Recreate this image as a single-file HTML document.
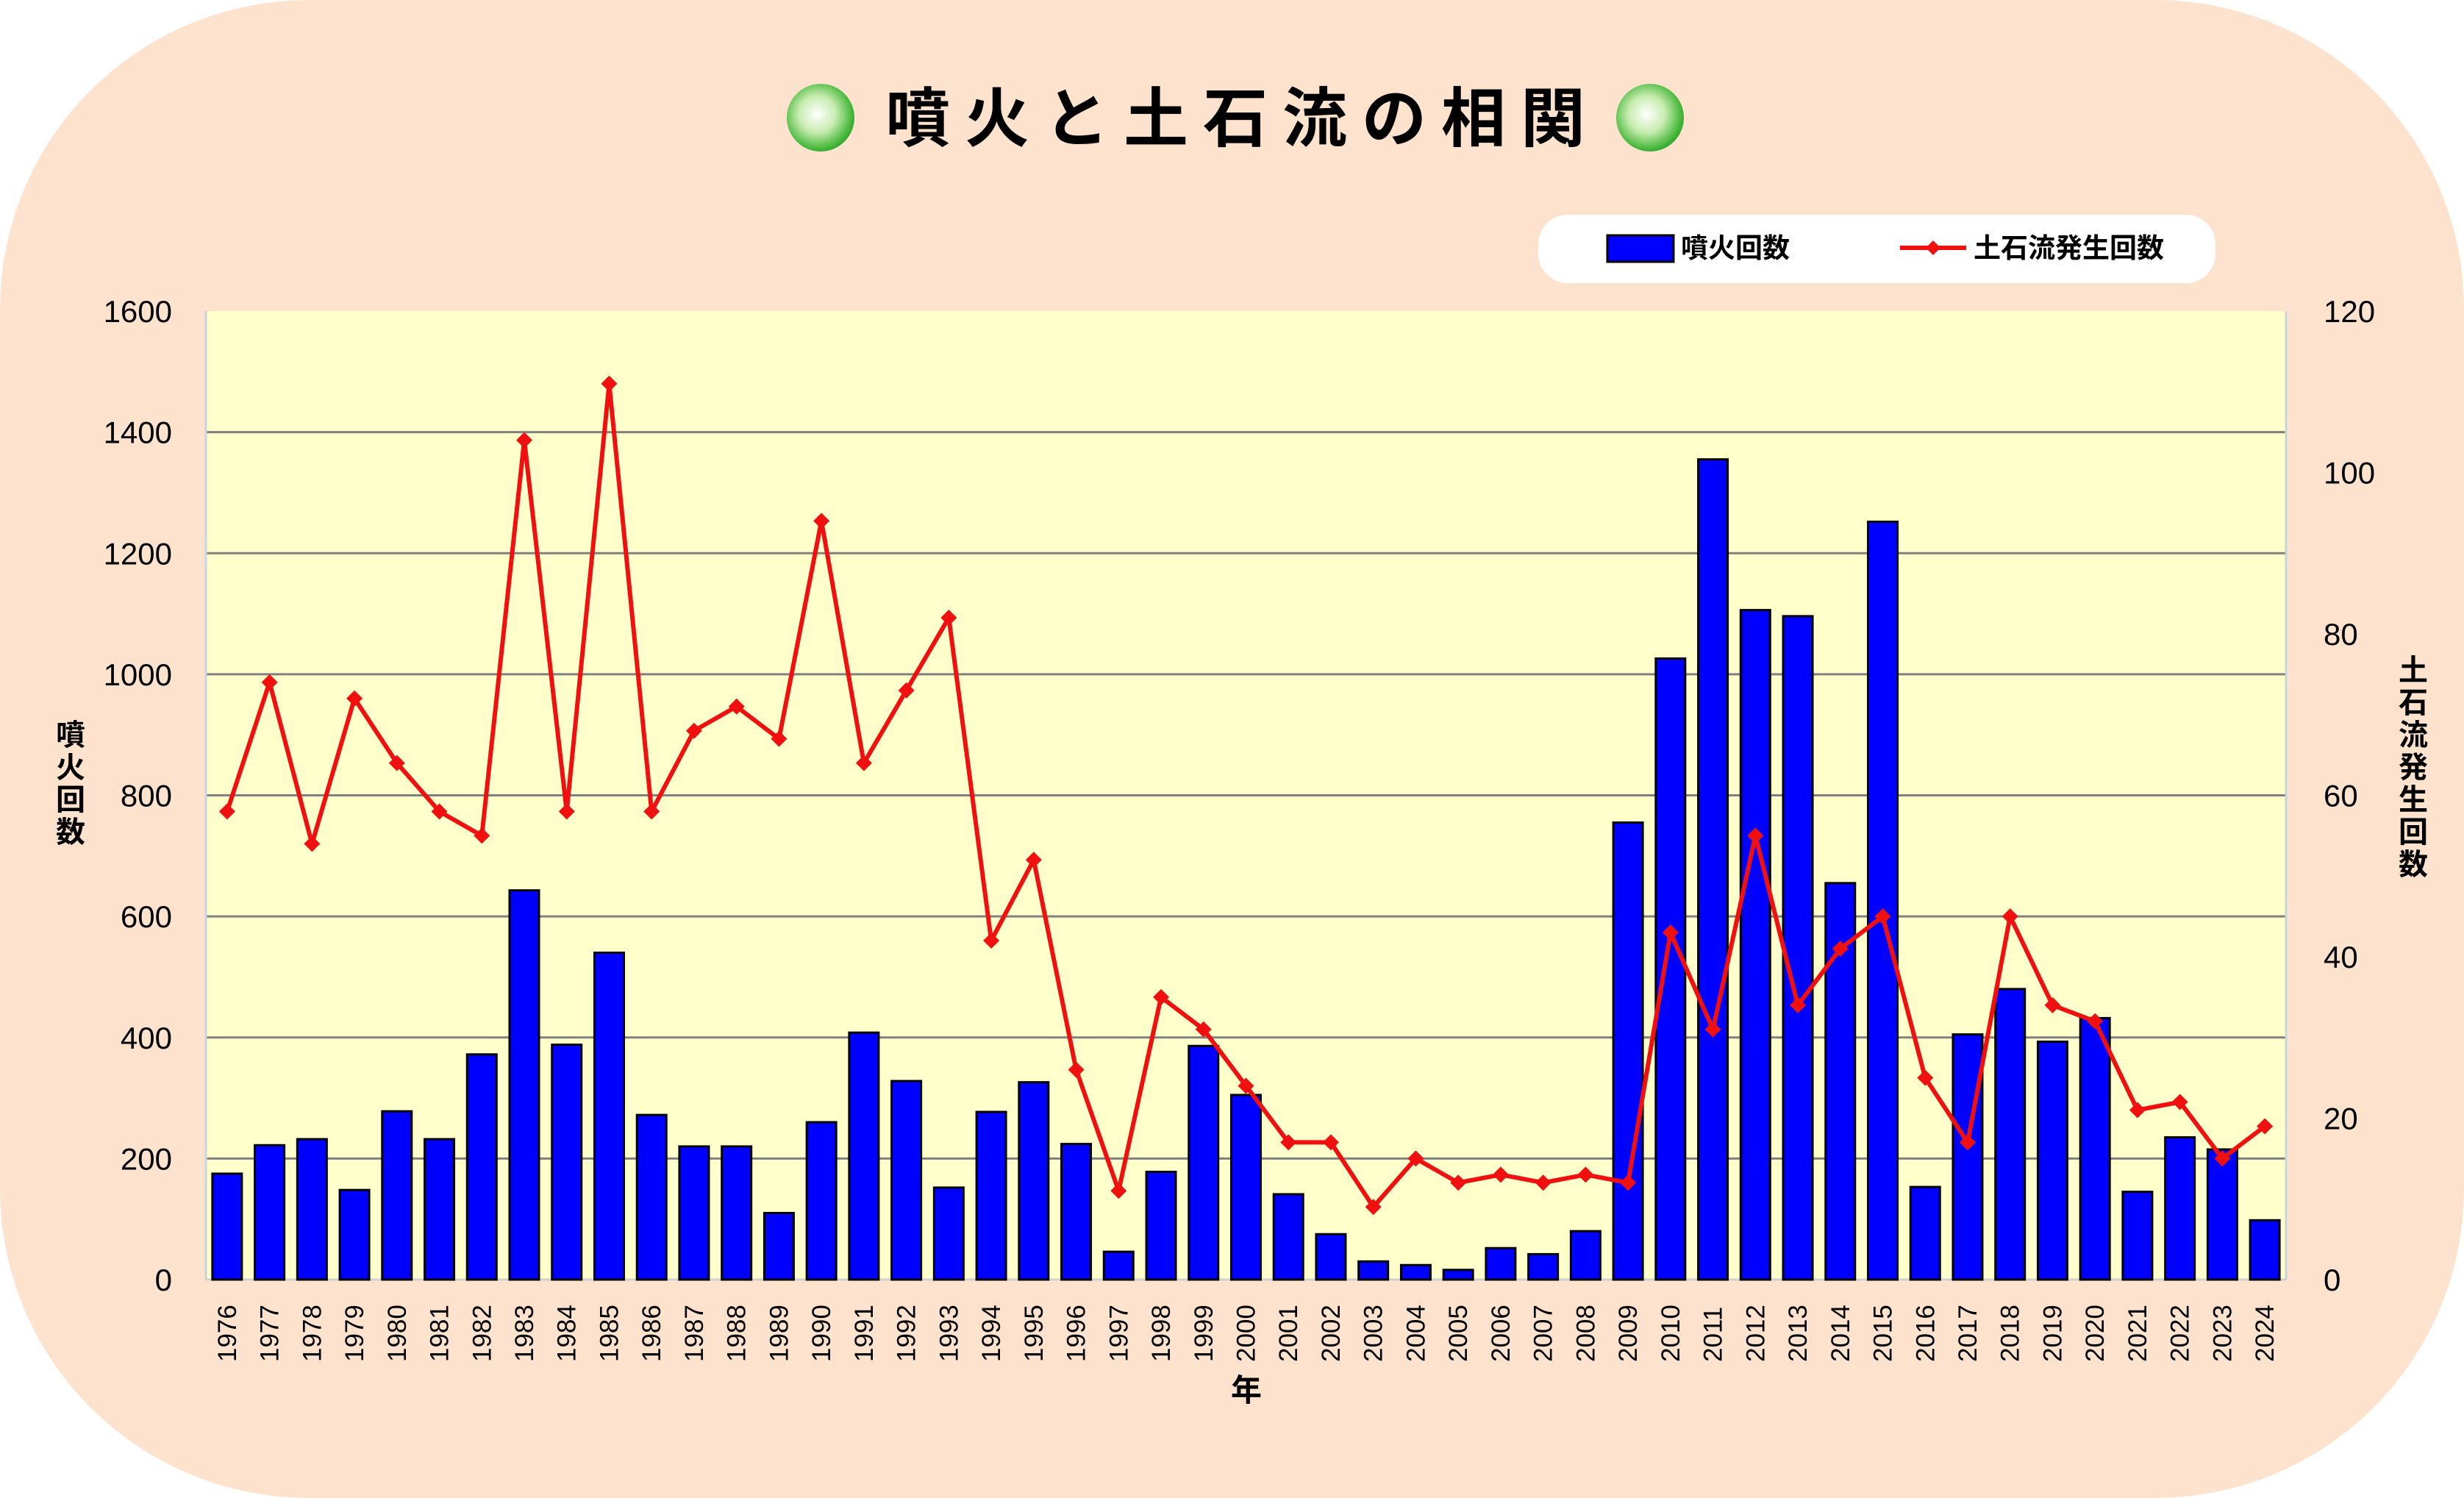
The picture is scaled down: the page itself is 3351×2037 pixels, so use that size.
<!DOCTYPE html>
<html><head><meta charset="utf-8"><style>
html,body{margin:0;padding:0;background:#fff;}
svg{display:block;font-family:"Liberation Sans","Noto Sans CJK JP",sans-serif;}
</style></head><body>
<svg id="s" width="3351" height="2037" viewBox="0 0 3351 2037" xmlns="http://www.w3.org/2000/svg">
<defs>
<radialGradient id="ball" cx="0.45" cy="0.45" r="0.6">
<stop offset="0" stop-color="#ffffff"/><stop offset="0.45" stop-color="#c8ecb0"/><stop offset="0.85" stop-color="#46b83a"/><stop offset="1" stop-color="#2a9a2a"/>
</radialGradient>
</defs>
<rect x="0" y="0" width="3351" height="2037" rx="420" ry="420" fill="#FDE3CD"/>
<circle cx="1116" cy="160" r="46" fill="url(#ball)"/>
<circle cx="2244" cy="160" r="46" fill="url(#ball)"/>
<text x="1690" y="192" text-anchor="middle" font-size="88" font-weight="bold" letter-spacing="20" font-family="'Noto Sans CJK JP',sans-serif">噴火と土石流の相関</text>
<rect x="2092" y="292" width="921" height="93" rx="40" fill="#fff"/>
<rect x="2186" y="320" width="90" height="36" fill="#0000FF" stroke="#000" stroke-width="3"/>
<text x="2286" y="350" font-size="37" font-weight="bold" font-family="'Noto Sans CJK JP',sans-serif">噴火回数</text>
<line x1="2584" y1="337" x2="2674" y2="337" stroke="#F01010" stroke-width="6"/>
<path d="M2629 327 L2639 337 L2629 347 L2619 337Z" fill="#F01010"/>
<text x="2684" y="350" font-size="37" font-weight="bold" font-family="'Noto Sans CJK JP',sans-serif">土石流発生回数</text>
<rect x="280" y="423" width="2829" height="1317" fill="#FFFFCC"/>
<g id="g"></g>
<text transform="translate(96,1085)" font-size="40" font-weight="bold" text-anchor="middle" font-family="'Noto Sans CJK JP',sans-serif"><tspan x="0" y="-72">噴</tspan><tspan x="0" y="-28">火</tspan><tspan x="0" y="16">回</tspan><tspan x="0" y="60">数</tspan></text>
<text x="1695" y="1905" font-size="42" font-weight="bold" text-anchor="middle" font-family="'Noto Sans CJK JP',sans-serif">年</text>
</svg>
<script>
var bars=[175,222,232,148,278,232,372,643,388,540,272,220,220,110,260,408,328,152,277,326,224,46,178,386,305,141,75,30,24,16,52,42,80,755,1026,1355,1106,1096,655,1252,153,405,480,393,432,145,235,215,98];
var line=[58,74,54,72,64,58,55,104,58,111,58,68,71,67,94,64,73,82,42,52,26,11,35,31,24,17,17,9,15,12,13,12,13,12,43,31,55,34,41,45,25,17,45,34,32,21,22,15,19];
var L=280,R=3109,T=423,B=1740,H=B-T,n=49,cw=(R-L)/n,h='';
for(var i=0;i<=8;i++){var y=B-i*H/8;
 if(i>0&&i<8)h+='<line x1="'+L+'" y1="'+y+'" x2="'+R+'" y2="'+y+'" stroke="#808080" stroke-width="3"/>';
 h+='<text x="234" y="'+(y+15)+'" font-size="42" text-anchor="end">'+(i*200)+'</text>';}
for(var i=0;i<=6;i++){var y=B-i*H/6;h+='<text x="3160" y="'+(y+15)+'" font-size="42">'+(i*20)+'</text>';}
h+='<line x1="'+L+'" y1="'+T+'" x2="'+L+'" y2="'+B+'" stroke="#c8d4dc" stroke-width="3"/>';
h+='<line x1="'+R+'" y1="'+T+'" x2="'+R+'" y2="'+B+'" stroke="#c8d4dc" stroke-width="3"/>';
h+='<line x1="'+L+'" y1="'+B+'" x2="'+R+'" y2="'+B+'" stroke="#d0d0d0" stroke-width="3"/>';
var pts=[];
for(var i=0;i<n;i++){var cx=L+cw*(i+0.5),bh=bars[i]/1600*H,bw=40;
 h+='<rect x="'+(cx-bw/2)+'" y="'+(B-bh)+'" width="'+bw+'" height="'+bh+'" fill="#0000FF" stroke="#000" stroke-width="3"/>';
 h+='<text transform="translate('+(cx+12)+',1852) rotate(-90)" font-size="35">'+(1976+i)+'</text>';
 pts.push(cx+','+(B-line[i]/120*H));}
h+='<polyline points="'+pts.join(' ')+'" fill="none" stroke="#F01010" stroke-width="6" stroke-linejoin="round"/>';
for(var i=0;i<n;i++){var p=pts[i].split(','),x=+p[0],y=+p[1];
 h+='<path d="M'+x+' '+(y-11)+' L'+(x+11)+' '+y+' L'+x+' '+(y+11)+' L'+(x-11)+' '+y+'Z" fill="#F01010"/>';}
document.getElementById('g').innerHTML=h;
var t='<text transform="translate(3282,1070)" font-size="40" font-weight="bold" text-anchor="middle" font-family="\'Noto Sans CJK JP\',sans-serif">';
var c='土石流発生回数';for(var i=0;i<c.length;i++)t+='<tspan x="0" y="'+(-145+i*44)+'">'+c[i]+'</tspan>';
t+='</text>';document.getElementById('s').insertAdjacentHTML('beforeend',t);
</script>
</body></html>
